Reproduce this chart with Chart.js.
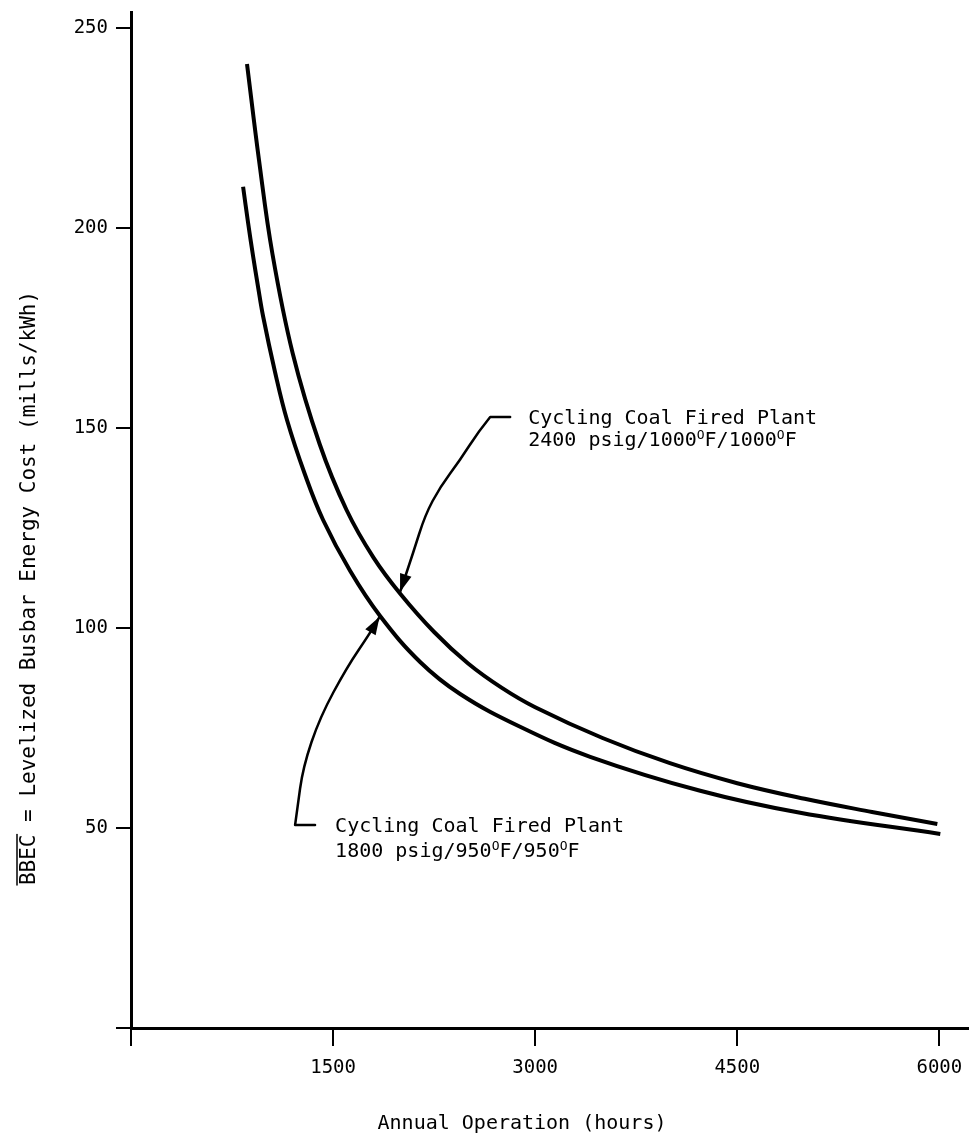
<!DOCTYPE html>
<html><head><meta charset="utf-8">
<script src="https://cdn.jsdelivr.net/npm/chart.js@4/dist/chart.umd.min.js"></script>
<style>html,body{margin:0;padding:0;background:#fff;} #wrap{width:969px;height:1141px;position:relative;}</style>
</head><body><div id="wrap"><canvas id="c" width="969" height="1141"></canvas></div>
<script>
// Series: 2400 psig/1000F/1000F cycling coal plant
const hours2400 = [861, 950, 1050, 1200, 1400, 1600, 1800, 2000, 2250, 2500, 2750, 3000, 3500, 4000, 4500, 5000, 5500, 5985];
const cost2400  = [241, 217, 193.5, 168.7, 146, 129.5, 117.6, 108.5, 99, 91.2, 85.1, 80.2, 72.5, 66.2, 61.2, 57.3, 54, 51];
// Series: 1800 psig/950F/950F cycling coal plant
const hours1800 = [832, 869, 906, 943, 980, 1069, 1158, 1290, 1426, 1626, 1849, 2146, 2443, 2888, 3408, 4225, 4967, 6007];
const cost1800  = [210.3, 201.3, 193, 185.3, 178, 164, 152, 138.5, 127, 114.3, 103, 91.5, 83.5, 75.3, 67.8, 59.3, 53.8, 48.5];
// Axis ticks
const xTicks = [0, 1500, 3000, 4500, 6000];
const yTicks = [0, 50, 100, 150, 200, 250];
const xTitle = 'Annual Operation (hours)';
const yTitleOver = 'BBEC';
const yTitleRest = ' = Levelized Busbar Energy Cost (mills/kWh)';

const FONT = '"DejaVu Sans Mono", monospace';

// Annotations (positions in data units)
const notes = [
  { text: [[{t:'Cycling Coal Fired Plant'}], [{t:'2400 psig/1000'},{t:'O',sup:true},{t:'F/1000'},{t:'O',sup:true},{t:'F'}]],
    at: [2948, 151], gap: 22,
    leader: [[2814,152.75],[2666,152.75],[2576,149],[2443,142],[2294,135.25],[2183,128.25],[2094,118.75],[1997,109]] },
  { text: [[{t:'Cycling Coal Fired Plant'}], [{t:'1800 psig/950'},{t:'O',sup:true},{t:'F/950'},{t:'O',sup:true},{t:'F'}]],
    at: [1515, 49], gap: 25,
    leader: [[1366,50.75],[1218,50.75],[1233,54.5],[1277,65.25],[1403,77.75],[1604,90.25],[1770,98.5],[1845,102.8]] }
];

const annotPlugin = {
  id: 'annot',
  afterDraw(chart) {
    const ctx = chart.ctx, xs = chart.scales.x, ys = chart.scales.y;
    ctx.save();
    ctx.fillStyle = '#000'; ctx.strokeStyle = '#000';
    notes.forEach(n => {
      const pts = n.leader.map(p => [xs.getPixelForValue(p[0]), ys.getPixelForValue(p[1])]);
      ctx.lineWidth = 2.5; ctx.lineJoin = 'round'; ctx.lineCap = 'round';
      ctx.beginPath();
      ctx.moveTo(pts[0][0], pts[0][1]);
      for (let i = 1; i < pts.length - 1; i++) {
        const mx = (pts[i][0] + pts[i+1][0]) / 2, my = (pts[i][1] + pts[i+1][1]) / 2;
        if (i === 1) ctx.lineTo(pts[1][0], pts[1][1]); else ctx.quadraticCurveTo(pts[i][0], pts[i][1], mx, my);
      }
      const tip = pts[pts.length-1], prev = pts[pts.length-2];
      ctx.lineTo(tip[0], tip[1]);
      ctx.stroke();
      const ang = Math.atan2(tip[1]-prev[1], tip[0]-prev[0]);
      const L = 18, W = 6;
      ctx.beginPath();
      ctx.moveTo(tip[0], tip[1]);
      ctx.lineTo(tip[0] - L*Math.cos(ang) + W*Math.sin(ang), tip[1] - L*Math.sin(ang) - W*Math.cos(ang));
      ctx.lineTo(tip[0] - L*Math.cos(ang) - W*Math.sin(ang), tip[1] - L*Math.sin(ang) + W*Math.cos(ang));
      ctx.closePath(); ctx.fill();
      // text
      const x0 = xs.getPixelForValue(n.at[0]);
      let by = ys.getPixelForValue(n.at[1]);
      ctx.textBaseline = 'alphabetic'; ctx.textAlign = 'left';
      n.text.forEach(line => {
        let x = x0;
        line.forEach(seg => {
          if (seg.sup) { ctx.font = '13px ' + FONT; ctx.fillText(seg.t, x, by - 7); x += ctx.measureText(seg.t).width; }
          else { ctx.font = '20px ' + FONT; ctx.fillText(seg.t, x, by); x += ctx.measureText(seg.t).width; }
        });
        by += n.gap;
      });
    });
    // axis titles
    ctx.font = '20px ' + FONT; ctx.textAlign = 'center'; ctx.textBaseline = 'middle';
    ctx.fillText(xTitle, 522, 1124);
    ctx.save();
    ctx.translate(27, 588); ctx.rotate(-Math.PI/2);
    ctx.font = '21px ' + FONT;
    const full = yTitleOver + yTitleRest;
    const w = ctx.measureText(full).width, wo = ctx.measureText(yTitleOver).width;
    ctx.textAlign = 'left'; ctx.textBaseline = 'alphabetic';
    ctx.fillText(full, -w/2, 8);
    ctx.lineWidth = 1.5;
    ctx.beginPath(); ctx.moveTo(-w/2, -10); ctx.lineTo(-w/2 + wo, -10); ctx.stroke();
    ctx.restore();
    ctx.restore();
  }
};

const mk = (hs, cs) => hs.map((h, i) => ({x: h, y: cs[i]}));

new Chart(document.getElementById('c').getContext('2d'), {
  type: 'scatter',
  data: { datasets: [
    { label: 'Cycling Coal Fired Plant 2400 psig/1000°F/1000°F', data: mk(hours2400, cost2400), showLine: true,
      borderColor: '#000', backgroundColor: '#000', borderWidth: 4, pointRadius: 0, tension: 0.4, fill: false },
    { label: 'Cycling Coal Fired Plant 1800 psig/950°F/950°F', data: mk(hours1800, cost1800), showLine: true,
      borderColor: '#000', backgroundColor: '#000', borderWidth: 4, pointRadius: 0, tension: 0.4, fill: false }
  ]},
  options: {
    responsive: false, animation: false, devicePixelRatio: 1,
    layout: { padding: { top: 12, right: 0, left: 0, bottom: 0 } },
    plugins: { legend: { display: false }, tooltip: { enabled: false } },
    scales: {
      x: { type: 'linear', min: 0, max: 6220,
        afterBuildTicks: s => { s.ticks = xTicks.map(v => ({value: v})); },
        ticks: { callback: v => v === 0 ? '' : String(v), font: {family: FONT, size: 19}, color: '#000', padding: 11, maxRotation: 0, autoSkip: false },
        grid: { drawOnChartArea: false, tickLength: 18, color: '#000', lineWidth: 2 },
        border: { display: true, color: '#000', width: 3 },
        afterFit: s => { s.height = 113; s.paddingLeft = 0; s.paddingRight = 0; } },
      y: { min: 0, max: 254,
        afterBuildTicks: s => { s.ticks = yTicks.map(v => ({value: v})); },
        ticks: { callback: v => v === 0 ? '' : String(v), font: {family: FONT, size: 19}, color: '#000', padding: 8, autoSkip: false },
        grid: { drawOnChartArea: false, tickLength: 15, color: '#000', lineWidth: 2 },
        border: { display: true, color: '#000', width: 3 },
        afterFit: s => { s.width = 131; s.paddingTop = 0; s.paddingBottom = 0; } }
    }
  },
  plugins: [annotPlugin]
});
</script>
</body></html>
